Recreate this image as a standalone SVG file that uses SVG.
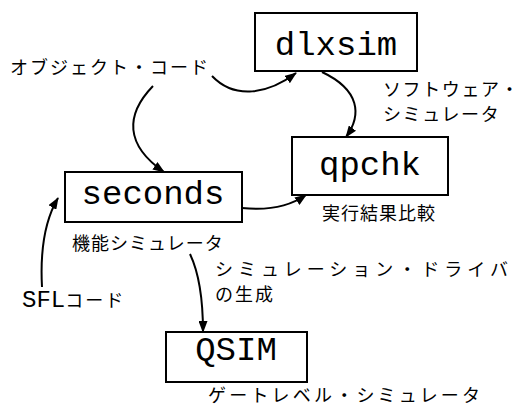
<svg xmlns="http://www.w3.org/2000/svg" width="520" height="408" viewBox="0 0 520 408">
<style>
.box{fill:#fff;stroke:#000;stroke-width:2}
.mono{font-family:"Liberation Mono","DejaVu Sans Mono",monospace;font-size:34px;fill:#000;text-anchor:middle}
.jp{font-family:"Noto Sans CJK JP",sans-serif;font-size:18px;fill:#000}
.con{fill:none;stroke:#000;stroke-width:2}
</style>
<defs>
<marker id="ah" markerUnits="userSpaceOnUse" markerWidth="12" markerHeight="9" refX="11" refY="4.5" orient="auto">
<path d="M0,0 L12,4.5 L0,9 z" fill="#000"/>
</marker>
</defs>
<g id="connectors">
<path class="con" d="M212,76 C235,100 268,94 296,73" marker-end="url(#ah)"/>
<path class="con" d="M153,86 C125,115 125,145 164,172" marker-end="url(#ah)"/>
<path class="con" d="M322,72 C360,90 362,115 346,137" marker-end="url(#ah)"/>
<path class="con" d="M242,208 C270,211 290,206 306,195" marker-end="url(#ah)"/>
<path class="con" d="M42,287 C40,250 45,220 58,198" marker-end="url(#ah)"/>
<path class="con" d="M190,254 C200,275 203,300 203,332" marker-end="url(#ah)"/>
</g>
<g id="dlxsim">
<rect class="box" x="255" y="13" width="162" height="58"/>
<text class="mono" x="336" y="55">dlxsim</text>
<text class="jp" x="383" y="96" letter-spacing="1.6">ソフトウェア・</text>
<text class="jp" x="383" y="121" letter-spacing="1.6">シミュレータ</text>
</g>
<g id="qpchk">
<rect class="box" x="292" y="137" width="156" height="58"/>
<text class="mono" x="370" y="175">qpchk</text>
<text class="jp" x="322" y="220" font-size="20" letter-spacing="1">実行結果比較</text>
</g>
<g id="seconds">
<rect class="box" x="65" y="172" width="177" height="50"/>
<text class="mono" x="153" y="204">seconds</text>
<text class="jp" x="72" y="250" font-size="19" letter-spacing="1">機能シミュレータ</text>
</g>
<g id="QSIM">
<rect class="box" x="166" y="332" width="141" height="50"/>
<text class="mono" x="236" y="360">QSIM</text>
<text class="jp" x="208" y="402" letter-spacing="3.2">ゲートレベル・シミュレータ</text>
</g>
<g id="labels">
<text class="jp" x="10" y="74" letter-spacing="2">オブジェクト・コード</text>
<text class="jp" x="215" y="276" font-size="17" letter-spacing="5">シミュレーション・ドライバ</text>
<text class="jp" x="215" y="301" font-size="17" letter-spacing="2">の生成</text>
<text x="22" y="307"><tspan font-family="Liberation Mono, monospace" font-size="24">SFL</tspan><tspan class="jp" font-size="20" letter-spacing="2">コード</tspan></text>
</g>
</svg>
